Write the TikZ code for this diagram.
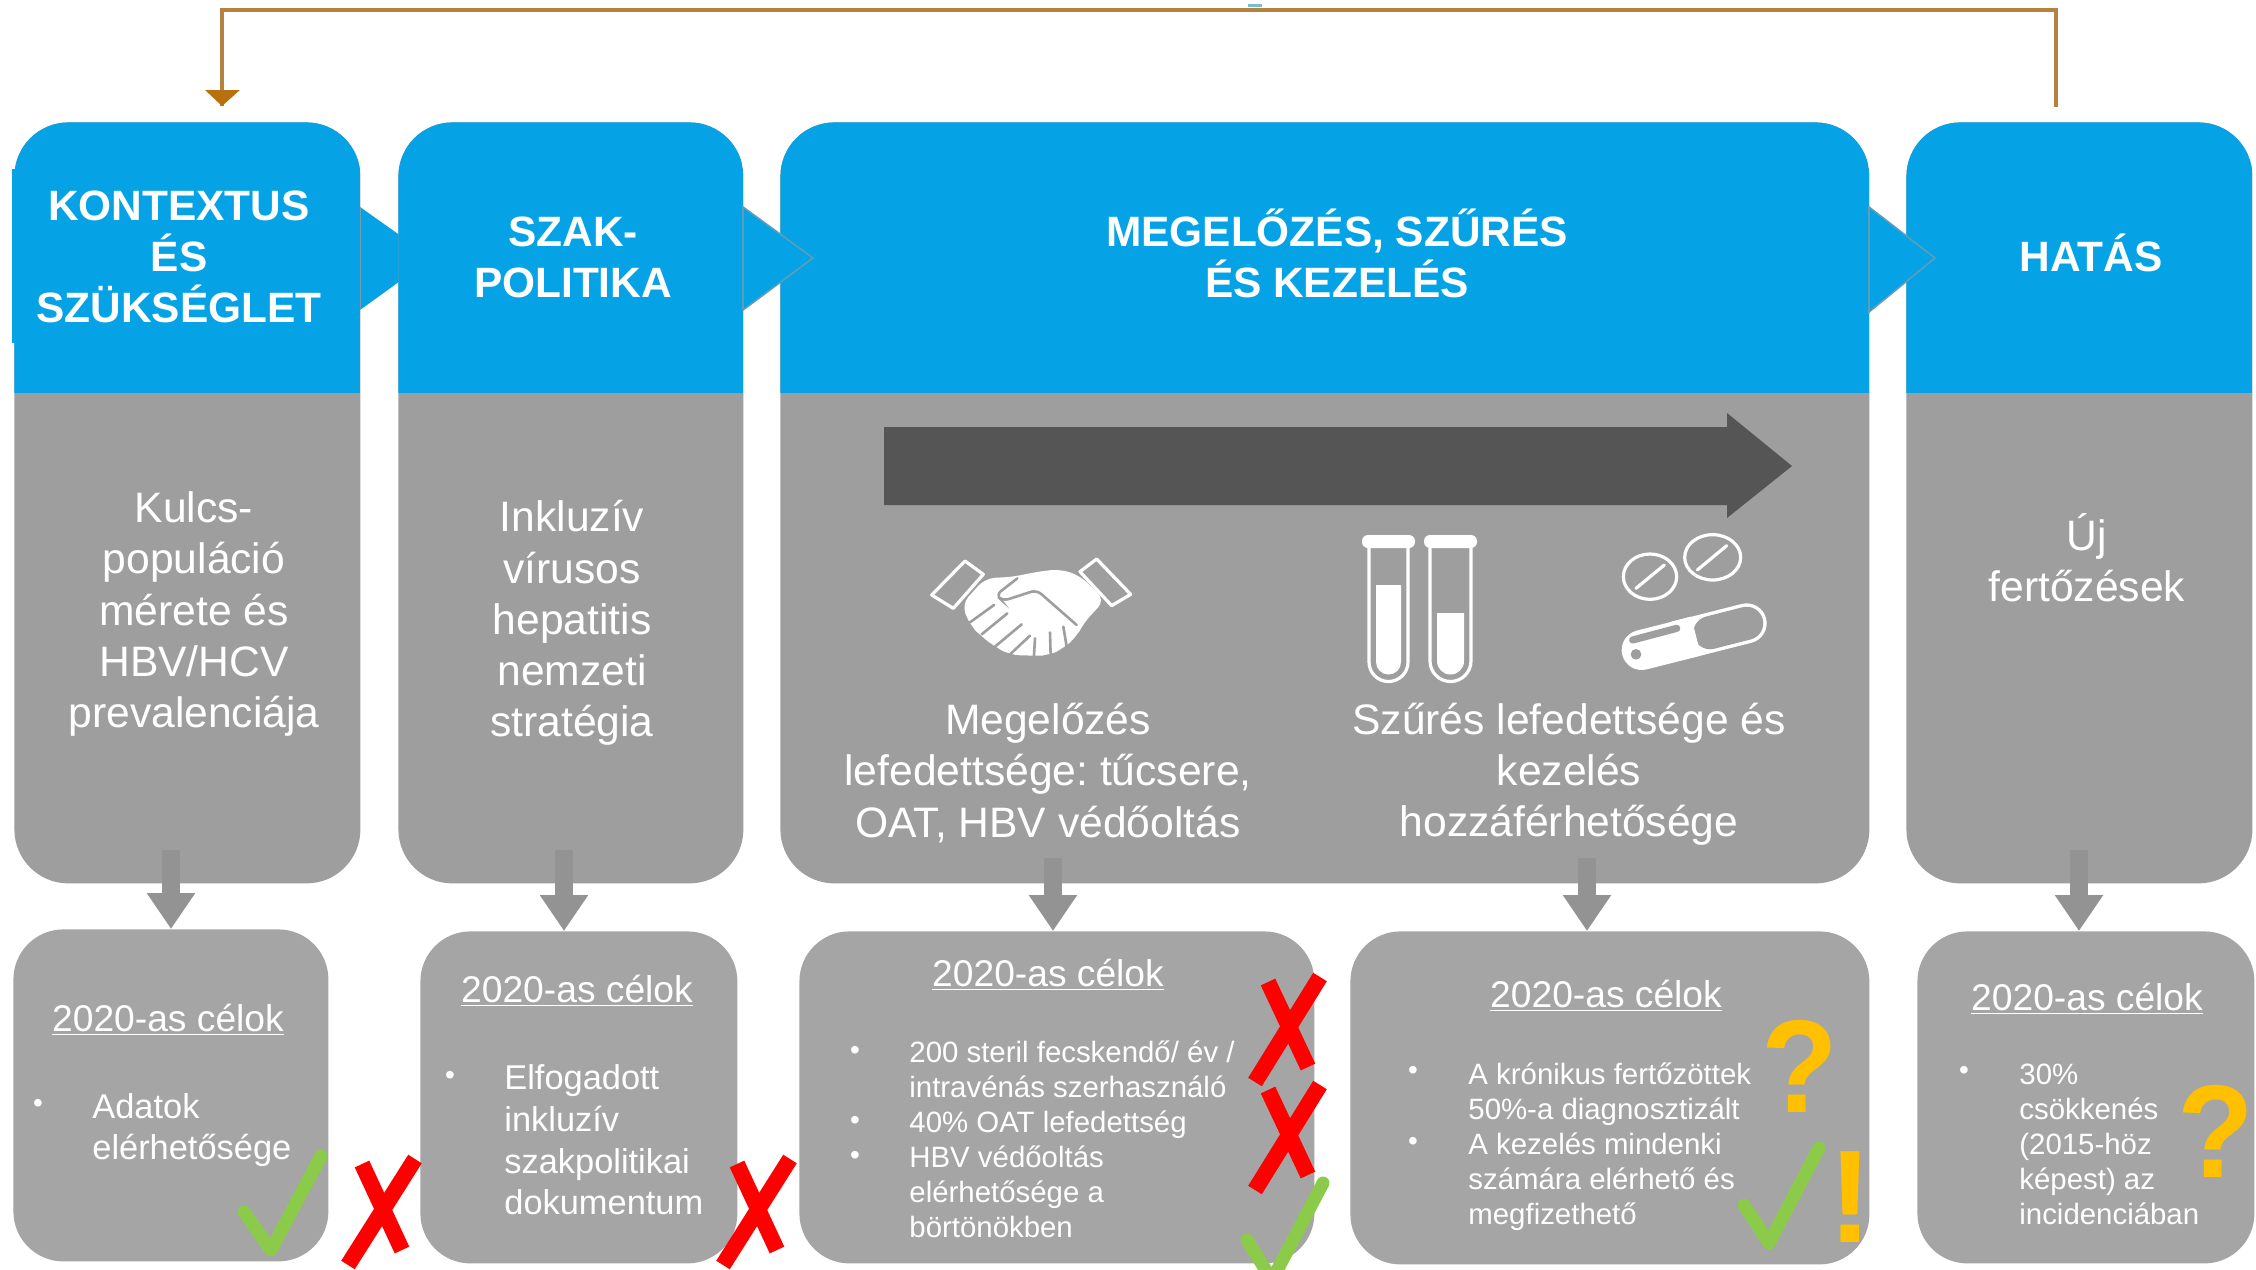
\documentclass[tikz,border=0pt]{standalone}
\usepackage{fontspec}
\setmainfont{Liberation Sans}
\frenchspacing
\usetikzlibrary{arrows.meta,calc}
\definecolor{hblue}{HTML}{05A3E6}
\definecolor{colgrey}{HTML}{9E9E9E}
\definecolor{goalgrey}{HTML}{A5A5A5}
\definecolor{arrgrey}{HTML}{939393}
\definecolor{darkarr}{HTML}{555555}
\definecolor{fbline}{HTML}{B5823F}
\definecolor{fbhead}{HTML}{B9700F}
\definecolor{edgeblue}{HTML}{5E9DB8}
\definecolor{okgreen}{HTML}{8CCB4A}
\definecolor{warnyel}{HTML}{FFC000}
\definecolor{tealmark}{HTML}{7ABFC8}
\tikzset{
  colbox/.style={anchor=north west,fill=colgrey,rounded corners=27pt,inner sep=0pt,minimum height=380.5pt,
    path picture={\fill[hblue,sharp corners] (path picture bounding box.north west) rectangle ([yshift=-135.5pt]path picture bounding box.north east);}},
  goalbox/.style={anchor=north west,fill=goalgrey,rounded corners=25pt,inner sep=0pt,minimum height=166pt},
  headtxt/.style={text=white,align=center,inner sep=0pt,font=\fontsize{21.2}{25.5}\selectfont\bfseries},
  bodytxt/.style={text=white,align=center,inner sep=0pt,font=\fontsize{21.3}{25.6}\selectfont},
  goalhead/.style={text=white,inner sep=0pt,font=\fontsize{18.6}{22}\selectfont},
  listbig/.style={text=white,anchor=west,align=left,inner sep=0pt,font=\fontsize{17.2}{20.85}\selectfont},
  listsmall/.style={text=white,anchor=west,align=left,inner sep=0pt,font=\fontsize{14.7}{17.5}\selectfont},
  bul/.style={text=white,inner sep=0pt,font=\fontsize{14}{14}\selectfont},
  dnarrow/.style={draw=arrgrey,line width=9pt,-{Triangle[length=18pt,width=23pt]}},
  redx/.style={draw=red,line width=8pt},
  tick/.style={draw=okgreen,line width=6.5pt,line cap=round,line join=round},
  iconline/.style={draw=white,line width=1.6pt},
  handsep/.style={draw=colgrey,line width=1.3pt,line cap=round},
  warnmark/.style={text=warnyel,inner sep=0pt,font=\fontsize{66}{66}\selectfont\bfseries},
}
\begin{document}
\begin{tikzpicture}[x=.5pt,y=-.5pt]
\useasboundingbox (0,0) rectangle (2256,1270);
\fill[white] (0,0) rectangle (2256,1270);

% triangle that lies behind the second column
\fill[hblue] (360,207) -- (432,258) -- (360,310) -- cycle;
\draw[edgeblue,line width=.8pt] (360,207) -- (360,310);

% columns
\node[colbox,minimum width=173pt] (col1) at (14,122) {};
\node[colbox,minimum width=172.5pt] (col2) at (398,122) {};
\node[colbox,minimum width=544.5pt] (col3) at (780,122) {};
\node[colbox,minimum width=173pt] (col4) at (1906,122) {};
\fill[hblue] (12,169) rectangle (60,343);

% triangles in front
\path[fill=hblue,draw=edgeblue,line width=.8pt] (743,207) -- (813,258) -- (743,310) -- cycle;
\path[fill=hblue,draw=edgeblue,line width=.8pt] (1869,207) -- (1935,258) -- (1869,312) -- cycle;

% goal boxes
\node[goalbox,minimum width=157.5pt] (g1) at (13,929) {};
\node[goalbox,minimum width=158.5pt] (g2) at (420,931) {};
\node[goalbox,minimum width=257.5pt] (g3) at (799,931) {};
\node[goalbox,minimum width=259.5pt,minimum height=166.5pt] (g4) at (1350,931) {};
\node[goalbox,minimum width=168.5pt] (g5) at (1917,931) {};

% column to goal arrows
\coordinate (a1) at (171,850);
\coordinate (a2) at (564,850);
\coordinate (a3) at (1053,858);
\coordinate (a4) at (1587,858);
\coordinate (a5) at (2079,850);
\draw[dnarrow] (a1) -- (a1 |- g1.north);
\draw[dnarrow] (a2) -- (a2 |- g2.north);
\draw[dnarrow] (a3) -- (a3 |- g3.north);
\draw[dnarrow] (a4) -- (a4 |- g4.north);
\draw[dnarrow] (a5) -- (a5 |- g5.north);

% feedback connector
\coordinate (fbs) at (2056,107);
\coordinate (fbe) at (222,106);
\coordinate (fbm) at (1000,10);
\fill[tealmark] (1248,4) rectangle (1262,7);
\draw[fbline,line width=2.2pt] (fbs) -- (fbs |- fbm) -- (fbe |- fbm) -- (fbe);
\fill[fbhead] (205,90) -- (240,90) -- (fbe) -- cycle;

% headers
\node[headtxt] (h1) at (179,257) {KONTEXTUS\\ÉS\\SZÜKSÉGLET};
\node[headtxt] (h2) at (573,257) {SZAK-\\POLITIKA};
\node[headtxt] (h3) at (1337,253) {MEGELŐZÉS, SZŰRÉS\\ÉS KEZELÉS};
\node[headtxt] (h4) at (2091,253) {HATÁS};

% column texts
\node[bodytxt] (b1) at (194,614) {Kulcs-\\populáció\\mérete és\\HBV/HCV\\prevalenciája};
\node[bodytxt] (b2) at (572,623) {Inkluzív\\vírusos\\hepatitis\\nemzeti\\stratégia};
\node[bodytxt] (b3) at (1048,773) {Megelőzés\\lefedettsége: tűcsere,\\OAT, HBV védőoltás};
\node[bodytxt] (b4) at (1569,774) {Szűrés lefedettsége és\\kezelés\\hozzáférhetősége};
\node[bodytxt] (b5) at (2087,558) {Új\\fertőzések};

% big dark arrow
\fill[darkarr] (884,427) -- (1727,427) -- (1727,413) -- (1792,466) -- (1727,518) -- (1727,505) -- (884,505) -- cycle;

% handshake icon
\begin{scope}[shift={(920,545)},scale=1/3]
\draw[iconline,line join=round] (35,150) -- (135,48) -- (190,88) -- (100,190) -- cycle;
\draw[iconline,line join=round] (480,80) -- (530,42) -- (632,148) -- (575,182) -- cycle;
\fill[white,rounded corners=5pt] (125,178) -- (195,100) -- (285,95) -- (340,82) -- (420,72) -- (480,92) -- (555,165) -- (490,235) -- (470,275) -- (430,310) -- (385,332) -- (340,332) -- (270,330) -- (225,305) -- (185,275) -- (150,240) -- cycle;
\draw[handsep,rounded corners=3pt] (292,100) -- (228,150) -- (248,168) -- (350,135) -- (470,240);
\draw[handsep] (222,180) -- (150,232);
\draw[handsep] (262,205) -- (185,268);
\draw[handsep] (305,238) -- (226,304);
\draw[handsep] (330,272) -- (268,330);
\draw[handsep] (345,280) -- (342,332);
\draw[handsep] (390,262) -- (392,332);
\draw[handsep] (430,245) -- (440,305);
\end{scope}

% test tubes
\fill[white,rounded corners=3pt] (1362,535) rectangle (1415,548);
\draw[iconline] (1369,548) -- (1369,662) arc[start angle=180,end angle=0,radius=19.5] -- (1408,548);
\fill[white] (1376,585) -- (1401,585) -- (1401,662) arc[start angle=0,end angle=180,radius=12.5] -- cycle;
\fill[white,rounded corners=3pt] (1424,535) rectangle (1477,548);
\draw[iconline] (1430,548) -- (1430,661) arc[start angle=180,end angle=0,radius=20.5] -- (1471,548);
\fill[white] (1437,613) -- (1464,613) -- (1464,661) arc[start angle=0,end angle=180,radius=13.5] -- cycle;

% pills and capsule
\begin{scope}[shift={(1610,525)},scale=1/3]
\draw[iconline] (120,155) ellipse[x radius=80,y radius=68];
\draw[white,line width=1.6pt,line cap=round] (78,190) -- (163,120);
\draw[iconline] (308,97) ellipse[x radius=84,y radius=68];
\draw[white,line width=1.6pt,line cap=round] (262,135) -- (350,62);
\draw[white,line width=20pt,line cap=round] (95,375) -- (410,295);
\draw[colgrey,line width=16.6pt,line cap=round] (300,323) -- (410,295);
\draw[white,line width=20pt] (200,348) -- (258,333);
\draw[colgrey,line width=3.6pt,line cap=round] (68,345) -- (200,310);
\fill[colgrey] (78,388) circle[radius=16];
\end{scope}

% goal texts
\node[goalhead] (gt1) at (168,1020) {\underline{2020-as célok}};
\node[goalhead] (gt2) at (577,991) {\underline{2020-as célok}};
\node[goalhead] (gt3) at (1048,975) {\underline{2020-as célok}};
\node[goalhead] (gt4) at (1606,996) {\underline{2020-as célok}};
\node[goalhead] (gt5) at (2087,999) {\underline{2020-as célok}};

\node[bul] (p1) at (38,1106) {•};
\node[listbig] (l1) at (92,1130) {Adatok\\elérhetősége};
\node[bul] (p2) at (450,1078) {•};
\node[listbig] (l2) at (504,1140) {Elfogadott\\inkluzív\\szakpolitikai\\dokumentum};
\node[bul] (p3a) at (855,1053) {•};
\node[bul] (p3b) at (855,1123) {•};
\node[bul] (p3c) at (855,1158) {•};
\node[listsmall] (l3) at (909,1139) {200 steril fecskendő/ év /\\intravénás szerhasználó\\40\% OAT lefedettség\\HBV védőoltás\\elérhetősége a\\börtönökben};
\node[bul] (p4a) at (1413,1073) {•};
\node[bul] (p4b) at (1413,1144) {•};
\node[listsmall] (l4) at (1468,1147) {A krónikus fertőzöttek\\50\%-a diagnosztizált\\A kezelés mindenki\\számára elérhető és\\megfizethető};
\node[bul] (p5) at (1964,1073) {•};
\node[listsmall] (l5) at (2019,1144) {30\%\\csökkenés\\(2015-höz\\képest) az\\incidenciában};

% red crosses
\draw[redx] (362,1164) -- (402,1250);
\draw[redx] (415,1159) -- (348,1265);
\draw[redx] (737,1164) -- (777,1250);
\draw[redx] (790,1159) -- (723,1265);
\draw[redx] (1268,982) -- (1308,1067);
\draw[redx] (1320,977) -- (1255,1082);
\draw[redx] (1268,1090) -- (1308,1175);
\draw[redx] (1320,1085) -- (1255,1190);

% green ticks
\draw[tick] (244,1212) -- (271,1250) -- (321,1156);
\begin{scope}
\clip (0,0) rectangle (2256,1270);
\draw[tick] (1247,1240) -- (1272,1280) -- (1323,1183);
\end{scope}
\draw[tick] (1744,1205) -- (1769,1243) -- (1819,1148);

% warning marks
\node[warnmark,xscale=.95,transform shape] (q1) at (1800,1066) {?};
\node[warnmark,xscale=.95,transform shape] (q2) at (2216,1131) {?};
\node[warnmark] (ex) at (1850,1197) {!};
\end{tikzpicture}
\end{document}
